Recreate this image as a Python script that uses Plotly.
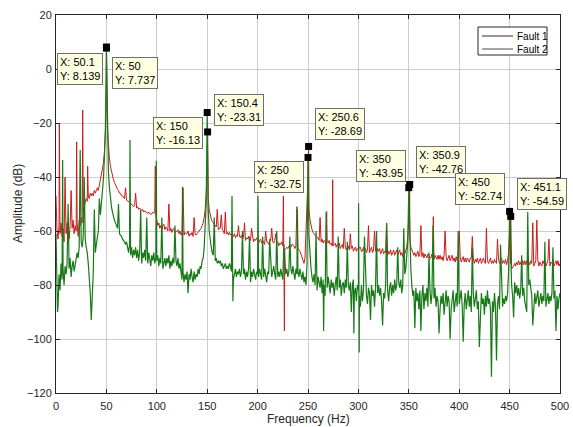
import plotly.graph_objects as go

# ---------------- data ----------------
# noise floor of each spectrum, one value per 1 Hz from 0 to 500 Hz
fault1_floor = [
    -47, -60, -63, -58, -61, -57, -62, -59, -64, -58,
    -61, -57, -60, -63, -58, -62, -59, -56, -61, -58,
    -60, -57, -62, -56, -58, -55, -57, -53, -51, -49,
    -48, -49, -47, -48, -46, -47, -46, -47, -45, -46,
    -45, -44, -45, -43, -42, -40, -38, -35, -31, -24,
    -8, -22, -29, -33, -36, -38, -40, -41, -42, -43,
    -44, -44.5, -45, -46, -46, -47, -47, -47.5, -48, -48,
    -48.5, -49, -49, -49.5, -50, -50, -50.5, -51, -50.5, -51,
    -51.5, -51, -52, -51.5, -52, -52.5, -52, -53, -52.5, -53,
    -53, -53.5, -53, -53.5, -54, -53.5, -53, -53.5, -53, -54,
    -56, -58, -57, -59, -58, -59.5, -58, -57.5, -59.5, -58.5,
    -59, -60, -58.5, -60, -59, -60.5, -59.5, -59, -60.5, -60.5,
    -60, -59.5, -61, -60, -61.5, -60.5, -60, -61.5, -60.5, -61,
    -61, -60, -62, -61, -61.5, -60.5, -62, -61.5, -61, -61.5,
    -61, -60.5, -60, -59.5, -59, -58, -57, -55, -52, -46,
    -38, -48, -52, -54, -55.5, -56.5, -57, -57.5, -58, -58.5,
    -58.5, -59.5, -59, -59, -60.5, -59.5, -60, -61, -60, -61,
    -60.5, -61.5, -60.5, -61.5, -61, -62, -62, -61, -62.5, -61.5,
    -62, -63, -62, -62.5, -61.5, -63, -62.5, -62, -63.5, -62.5,
    -63, -62, -63.5, -63.5, -62.5, -62.5, -64, -63, -63.5, -62.5,
    -63.5, -64.5, -63.5, -63, -64.5, -63.5, -64, -65, -63.5, -64,
    -64, -65, -64, -63.5, -65, -64, -64.5, -63.5, -65.5, -64.5,
    -64, -65.5, -64.5, -65, -64, -65.5, -66, -67, -66.5, -66,
    -66.5, -65.5, -65.5, -66, -65, -65, -65.5, -66.5, -65.5, -66,
    -66.5, -67, -67.5, -68.5, -69.5, -71, -72, -70, -62, -52,
    -40, -52, -56, -58, -59.5, -60.5, -61, -61.5, -62, -62.5,
    -62.5, -63.5, -63, -64, -63, -64.5, -63.5, -64, -65, -64,
    -64.5, -63.5, -65, -64.5, -65.5, -65.5, -65, -64.5, -66, -65,
    -65.5, -64.5, -66.5, -65.5, -65, -66.5, -65.5, -66, -67, -66,
    -65.5, -67, -66, -66.5, -65.5, -67.5, -66.5, -66, -67.5, -66.5,
    -67, -66, -66, -67.5, -67.5, -66, -67.5, -66.5, -68, -67,
    -66.5, -68, -67, -66, -68, -67, -68.5, -67, -68, -66.5,
    -67.5, -66.5, -68.5, -67.5, -66.5, -68.5, -67.5, -68, -66.5, -69,
    -67.5, -68.5, -67, -69, -68, -67, -69, -68, -67, -69,
    -68, -67, -69, -68, -69.5, -67.5, -68.5, -67.5, -66, -62,
    -55, -62, -66, -67.5, -68, -69, -68, -69.5, -68.5, -67.5,
    -69.5, -68.5, -67.5, -69.5, -68, -70, -68.5, -69.5, -70, -68.5,
    -69, -70, -70, -68.5, -70, -70.5, -69, -70, -70.5, -69,
    -70.5, -69, -70.5, -69.5, -71, -69, -70.5, -69.5, -71, -70,
    -69, -71, -70, -69, -71, -70, -71.5, -69.5, -71, -70,
    -71, -69.5, -71.5, -70.5, -69.5, -71.5, -70, -71.5, -70, -70.5,
    -71.5, -70, -70, -71.5, -70, -72, -70.5, -71.5, -70, -72,
    -71, -70, -72, -71, -70, -71.5, -72, -70.5, -71, -72,
    -71, -70, -72, -71, -72, -70.5, -71.5, -72, -70.5, -70.5,
    -72, -71, -70, -72, -71, -72, -70.5, -72.5, -71, -68,
    -62, -72, -74, -73.5, -73, -72, -73, -71.5, -72.5, -71,
    -72.5, -71.5, -73, -71, -72.5, -71, -72.5, -71, -73, -71.5,
    -72.5, -71, -72, -70.5, -73, -72, -71, -72.5, -71, -73,
    -71.5, -72.5, -73, -71, -72, -71, -73, -72, -71, -72.5,
    -73, -71.5, -72, -70.5, -73, -72, -71, -72.5, -71, -73,
    -72,
]

fault2_floor = [
    -61, -80, -88, -76, -82, -72, -78, -74, -80, -73,
    -76, -72, -79, -74, -70, -77, -73, -71, -75, -72,
    -71, -68, -70, -66, -68, -64, -66, -62, -64, -63,
    -66, -68, -72, -76, -83, -93, -82, -75, -71, -68,
    -65, -63, -60, -57, -54, -50, -46, -41, -33, -22,
    -5, -25, -38, -44, -48, -51, -53, -55, -56, -57,
    -58.5, -59, -60, -61, -61.5, -62, -63, -63.5, -64, -65,
    -64, -66, -68, -65, -69, -66, -70, -67, -69, -66,
    -70, -67, -71, -68, -69, -72, -68, -70, -67, -71,
    -69, -72, -68, -70, -73, -69, -71, -68, -72, -70,
    -71, -69, -73, -70, -72, -69, -74, -71, -70, -73,
    -70, -72, -69, -74, -71, -73, -70, -72, -75, -71,
    -73, -70, -74, -72, -76, -78, -75, -79, -76, -78,
    -75, -79, -76, -78, -74, -77, -79, -75, -78, -76,
    -77, -74, -76, -73, -74, -71, -70, -66, -60, -50,
    -30, -52, -60, -64, -66, -68, -69, -70, -71, -70,
    -72, -71, -72, -71, -73, -72, -74, -73, -72, -74,
    -73, -74, -72, -73, -75, -80, -78, -76, -74, -77,
    -75, -76, -74, -77, -75, -73, -76, -74, -78, -75,
    -77, -74, -76, -79, -75, -77, -74, -76, -78, -75,
    -76, -77, -74, -76, -78, -75, -77, -74, -76, -79,
    -75, -76, -78, -74, -77, -75, -73, -76, -78, -74,
    -77, -75, -77, -74, -76, -78, -75, -73, -76, -74,
    -77, -75, -77, -74, -76, -73, -75, -78, -74, -76,
    -75, -77, -74, -76, -78, -75, -79, -77, -80, -72,
    -50, -62, -70, -74, -77, -79, -76, -80, -78, -82,
    -77, -79, -81, -77, -83, -78, -80, -84, -79, -81,
    -77, -80, -83, -78, -81, -79, -84, -80, -77, -82,
    -79, -81, -78, -84, -80, -79, -83, -78, -81, -85,
    -80, -82, -79, -84, -80, -78, -83, -81, -86, -80,
    -82, -84, -88, -80, -86, -82, -85, -79, -84, -87,
    -81, -83, -86, -80, -84, -82, -88, -81, -85, -83,
    -80, -84, -81, -86, -79, -83, -85, -80, -84, -82,
    -86, -81, -79, -84, -80, -83, -78, -82, -80, -84,
    -79, -81, -78, -83, -80, -77, -76, -74, -70, -64,
    -55, -62, -74, -80, -84, -82, -88, -81, -86, -83,
    -89, -82, -87, -84, -80, -89, -83, -86, -81, -88,
    -84, -82, -87, -83, -90, -85, -81, -88, -84, -86,
    -82, -89, -84, -87, -83, -91, -85, -82, -88, -84,
    -86, -83, -89, -85, -82, -90, -86, -83, -88, -84,
    -87, -85, -82, -88, -84, -87, -83, -89, -85, -82,
    -88, -84, -90, -86, -83, -88, -85, -82, -89, -86,
    -84, -88, -83, -87, -85, -91, -84, -88, -82, -87,
    -85, -89, -84, -86, -90, -83, -88, -85, -87, -84,
    -89, -86, -83, -88, -85, -87, -84, -86, -83, -75,
    -60, -68, -80, -84, -82, -79, -83, -80, -84, -81,
    -85, -82, -80, -84, -81, -86, -88, -90, -85, -80,
    -78, -82, -84, -81, -86, -83, -87, -84, -82, -88,
    -85, -83, -87, -84, -86, -82, -88, -85, -83, -87,
    -84, -86, -83, -88, -85, -82, -87, -84, -89, -85,
    -83,
]
floor_step_hz = 1.0

# narrow spectral lines (frequency Hz, amplitude dB)
fault1_spike_f = [3.3, 9, 15, 20.5, 26.5, 31.4, 50.1, 69, 79, 98.5, 112, 126, 137,
                  150.4, 160, 164, 168, 181, 187, 194, 208, 214, 218, 225.6, 226.6,
                  239, 250.6, 262, 268.5, 274.5, 286, 292, 310, 316, 328, 350.9,
                  362, 374.3, 386, 400, 413, 427, 438, 451.1, 473, 477, 489]
fault1_spike_db = [-20, -40, -45, -27, -15.2, -36, 8.139, -44, -46, -36, -50, -44, -55,
                   -23.31, -52, -54, -53, -58, -57, -59, -60, -59, -61, -47, -97,
                   -51, -28.69, -55, -52.8, -41, -59, -61, -58, -60, -57, -42.76,
                   -58, -54.7, -60, -60, -62, -59, -63, -54.59, -57, -56, -63]

fault2_spike_f = [1.5, 6.6, 12, 24, 28, 38, 43, 50, 62, 73.4, 84, 90, 99.5, 105, 118,
                  125.5, 131, 150, 157, 174.6, 175.5, 185, 192, 200.4, 205, 212, 219,
                  226, 232, 239.5, 250, 258, 265.5, 268, 280, 289, 293, 295.5, 300.2,
                  300.8, 306, 312, 318, 324, 328, 339, 345, 350, 356, 362, 370, 374,
                  380, 391, 399, 404, 413, 420, 432, 437, 441, 450, 454, 462, 468,
                  473, 485, 493, 496]
fault2_spike_db = [-90, -33.7, -50, -30, -40, -52, -48, 7.737, -50, -26.3, -52, -55, -34,
                   -55, -58, -43.6, -83, -16.13, -55, -47, -86, -60, -62, -47, -62, -63,
                   -60, -65, -62, -52, -32.75, -60, -97, -53, -62, -64, -90, -98, -49.7,
                   -105, -62, -93, -60, -95, -57, -66, -59, -43.95, -96, -97, -68, -58,
                   -98, -100, -60, -101, -66, -103, -114, -108, -65, -52.74, -92, -69,
                   -53, -95, -64, -66, -97]

series_names = ["Fault 1", "Fault 2"]
x_title = "Frequency (Hz)"
y_title = "Amplitude (dB)"

# data tips shown on the chart
tip_f = [50.1, 50, 150, 150.4, 250, 250.6, 350, 350.9, 450, 451.1]
tip_db = [8.139, 7.737, -16.13, -23.31, -32.75, -28.69, -43.95, -42.76, -52.74, -54.59]

x_ticks = [0, 50, 100, 150, 200, 250, 300, 350, 400, 450, 500]
y_ticks = [-120, -100, -80, -60, -40, -20, 0, 20]

# ---------------- layout helpers ----------------
W, H = 573, 427
ML, MT = 56, 15
PW, PH = 504, 378
MR, MB = W - ML - PW, H - MT - PH

# pixel offset of each data-tip box (top-left) from its data point
tip_dx = [-50, 6, -54, 6, -54, 6, -53, 6, -55, 6]
tip_dy = [-6, -9, -4, 38, -4, 38, 38, 38, 38, 38]


def px(xp):  # page pixel -> paper fraction
    return (xp - ML) / PW


def py(yp):
    return 1 - (yp - MT) / PH


def build(floor, sf, sd):
    pts = {round(i * floor_step_hz, 3): v for i, v in enumerate(floor)}
    for f, d in zip(sf, sd):
        pts[round(f, 3)] = d
    xs = sorted(pts)
    return xs, [pts[x] for x in xs]


x1, y1 = build(fault1_floor, fault1_spike_f, fault1_spike_db)
x2, y2 = build(fault2_floor, fault2_spike_f, fault2_spike_db)

FONT = "Arial, Liberation Sans, sans-serif"
TXT = "#262626"

fig = go.Figure()
fig.add_trace(go.Scatter(x=x1, y=y1, mode="lines", name=series_names[0], showlegend=False,
                         line=dict(color="#c81c1c", width=1)))
fig.add_trace(go.Scatter(x=x2, y=y2, mode="lines", name=series_names[1], showlegend=False,
                         line=dict(color="#177a17", width=1.2)))
fig.add_trace(go.Scatter(x=tip_f, y=tip_db, mode="markers", showlegend=False,
                         marker=dict(symbol="square", size=7, color="black")))

for f, d, dx, dy in zip(tip_f, tip_db, tip_dx, tip_dy):
    fig.add_annotation(x=f, y=d, xref="x", yref="y", showarrow=False,
                       text=f"X: {f:g}<br>Y: {d:g}", align="left",
                       xanchor="left", yanchor="top", xshift=dx, yshift=dy,
                       font=dict(family=FONT, size=11, color="black"),
                       bgcolor="#ffffe1", bordercolor="#6e6e6e",
                       borderwidth=1, borderpad=2)

# legend box drawn in the MATLAB style
fig.add_shape(type="rect", xref="paper", yref="paper",
              x0=px(478), x1=px(547), y0=py(27), y1=py(55),
              line=dict(color=TXT, width=1), fillcolor="white", layer="above")
legend_colors = ["#4a2222", "#3f523f"]
for i, (name, col) in enumerate(zip(series_names, legend_colors)):
    yy = 36 + 13 * i
    fig.add_shape(type="line", xref="paper", yref="paper",
                  x0=px(482), x1=px(513), y0=py(yy), y1=py(yy),
                  line=dict(color=col, width=1), layer="above")
    fig.add_annotation(x=px(515), y=py(yy), xref="paper", yref="paper",
                       text=name, showarrow=False, xanchor="left", yanchor="middle",
                       font=dict(family=FONT, size=10, color="black"))

# axis titles placed where the reference shows them
fig.add_annotation(x=px(308), y=py(419), xref="paper", yref="paper", text=x_title,
                   showarrow=False, xanchor="center", yanchor="middle",
                   font=dict(family=FONT, size=12, color=TXT))
fig.add_annotation(x=px(18), y=py(204), xref="paper", yref="paper", text=y_title,
                   showarrow=False, xanchor="center", yanchor="middle", textangle=-90,
                   font=dict(family=FONT, size=12, color=TXT))

axis_common = dict(showline=True, linecolor=TXT, linewidth=1, mirror="ticks",
                   ticks="inside", ticklen=4, tickcolor=TXT, automargin=False,
                   ticklabeloverflow="allow",
                   showgrid=True, gridcolor="#cccccc", gridwidth=1,
                   zeroline=False, tickfont=dict(family=FONT, size=11, color=TXT))

fig.update_xaxes(range=[0, 500], tickvals=x_ticks, ticklabelstandoff=3, **axis_common)
fig.update_yaxes(range=[-120, 20], tickvals=y_ticks, ticklabelstandoff=1, **axis_common)

fig.update_layout(
    width=W, height=H,
    margin=dict(l=ML, r=MR, t=MT, b=MB),
    paper_bgcolor="white", plot_bgcolor="white",
    font=dict(family=FONT, size=11, color=TXT),
    showlegend=False,
)

# remove the browser's default page margin so the figure fills the window exactly
fig.write_html("out.html",
               config={"displayModeBar": False},
               post_script="document.body.style.margin='0';document.body.style.overflow='hidden';")
